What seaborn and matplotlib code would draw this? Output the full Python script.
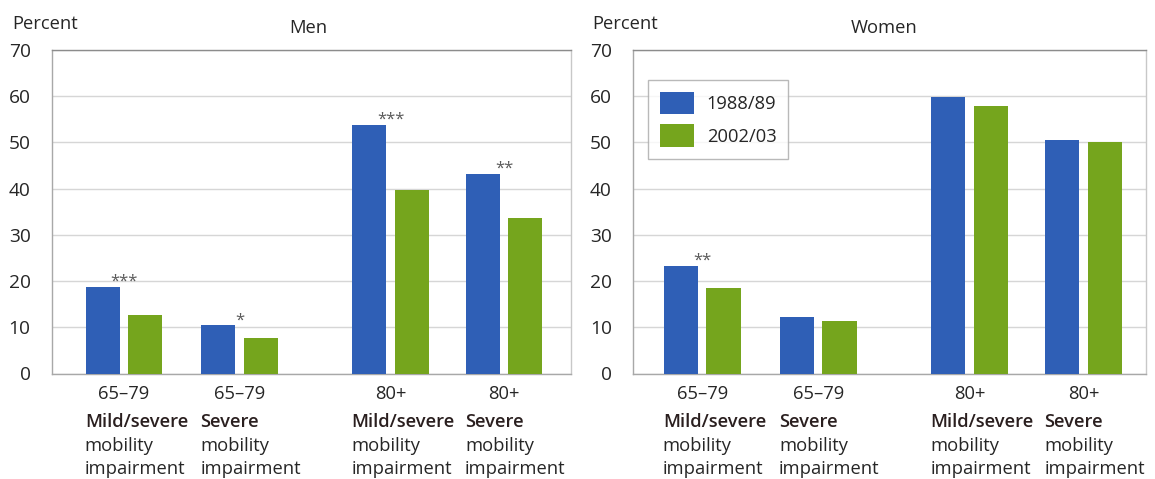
import matplotlib
matplotlib.use("Agg")
import matplotlib.pyplot as plt
import matplotlib.transforms as mtrans
import seaborn as sns
import pandas as pd

# ---------------- data ----------------
ages = ["65–79", "65–79", "80+", "80+"]
impairments = ["Mild/severe", "Severe", "Mild/severe", "Severe"]
periods = ["1988/89", "2002/03"]
men_1988 = [18.8, 10.4, 53.8, 43.2]
men_2002 = [12.6, 7.6, 39.8, 33.6]
women_1988 = [23.3, 12.3, 59.9, 50.6]
women_2002 = [18.6, 11.3, 57.8, 50.1]
men_sig = ["***", "*", "***", "**"]
women_sig = ["**", "", "", ""]
y_ticks = [0, 10, 20, 30, 40, 50, 60, 70]

# ---------------- layout / style ----------------
GROUP_POS = [0.0, 1.02, 2.35, 3.35]
COLORS = {"1988/89": "#2F5FB6", "2002/03": "#75A51D"}
FONT = ["Open Sans", "DejaVu Sans"]
FS = 13.2
TXT = "#262626"

sns.set_style("white")
plt.rcParams["font.family"] = FONT

W, H = 1155, 479
fig = plt.figure(figsize=(W / 100, H / 100), dpi=100)


def px_rect(x0, x1, y0, y1):
    return [x0 / W, 1 - y1 / H, (x1 - x0) / W, (y1 - y0) / H]


panels = [
    dict(title="Men", v1=men_1988, v2=men_2002, sig=men_sig,
         rect=px_rect(51.5, 571, 50, 373.5), xlim=(-0.639, 3.94),
         title_x=0.494, pct_x=12, legend=False),
    dict(title="Women", v1=women_1988, v2=women_2002, sig=women_sig,
         rect=px_rect(632.7, 1146, 50, 373.5), xlim=(-0.61, 3.9),
         title_x=0.49, pct_x=592, legend=True),
]

for p in panels:
    ax = fig.add_axes(p["rect"])
    df = pd.DataFrame({
        "pos": GROUP_POS * 2,
        "period": [periods[0]] * 4 + [periods[1]] * 4,
        "value": list(p["v1"]) + list(p["v2"]),
    })
    sns.barplot(data=df, x="pos", y="value", hue="period", hue_order=periods,
                native_scale=True, orient="x", palette=COLORS, saturation=1,
                width=0.75, gap=0.2, linewidth=0, ax=ax, legend=p["legend"],
                zorder=3)
    ax.set_xlim(*p["xlim"])
    ax.set_ylim(0, 70)
    ax.set_yticks(y_ticks)
    ax.set_yticklabels([str(t) for t in y_ticks])
    ax.set_xticks([])
    ax.set_xlabel("")
    ax.set_ylabel("")
    ax.grid(axis="y", color="#d6d6d6", linewidth=1, zorder=0)
    ax.set_axisbelow(True)
    ax.tick_params(axis="y", length=9, width=1, color="#b4b4b4",
                   labelsize=13.8, labelcolor=TXT, pad=6)
    ax.spines["left"].set_color("#a8a8a8")
    ax.spines["bottom"].set_color("#a8a8a8")
    ax.spines["top"].set_color("#8c8c8c")
    ax.spines["right"].set_color("#c8c8c8")
    for s in ax.spines.values():
        s.set_linewidth(1)
        s.set_visible(True)

    # significance markers
    for x, v, s in zip(GROUP_POS, p["v1"], p["sig"]):
        if s:
            ax.text(x, v + 0.2, s, ha="center", va="baseline",
                    fontsize=12, color="#5a5a5a")

    # category labels
    tr = mtrans.blended_transform_factory(ax.transData, ax.transAxes)

    def yf(ypx):
        return (373.5 - ypx) / 323.5

    for x, a, imp in zip(GROUP_POS, ages, impairments):
        ax.text(x, yf(399), a, transform=tr, ha="center", va="baseline",
                fontsize=FS, color=TXT)
        ax.text(x - 0.345, yf(427), imp, transform=tr, ha="left",
                va="baseline", fontsize=FS, color="#2a1f1f",
                fontweight="semibold")
        ax.text(x - 0.345, yf(451), "mobility", transform=tr, ha="left",
                va="baseline", fontsize=FS, color=TXT)
        ax.text(x - 0.345, yf(474), "impairment", transform=tr, ha="left",
                va="baseline", fontsize=FS, color=TXT)

    ax.text(p["title_x"], 1 + (50 - 33) / 323.5, p["title"],
            transform=ax.transAxes, ha="center", va="baseline",
            fontsize=FS, color=TXT)
    fig.text(p["pct_x"] / W, 1 - 29 / H, "Percent", ha="left",
             va="baseline", fontsize=FS, color=TXT)

    if p["legend"]:
        leg = ax.legend(loc="upper left", bbox_to_anchor=(0.03, 0.907),
                        borderaxespad=0, frameon=True, fancybox=False,
                        fontsize=FS, handlelength=1.85, handleheight=1.5,
                        handletextpad=0.7, labelspacing=0.55,
                        borderpad=0.65, title=None)
        leg.get_frame().set_edgecolor("#a8a8a8")
        leg.get_frame().set_linewidth(1)
        for t in leg.get_texts():
            t.set_color(TXT)

fig.savefig("out.png", dpi=100)
